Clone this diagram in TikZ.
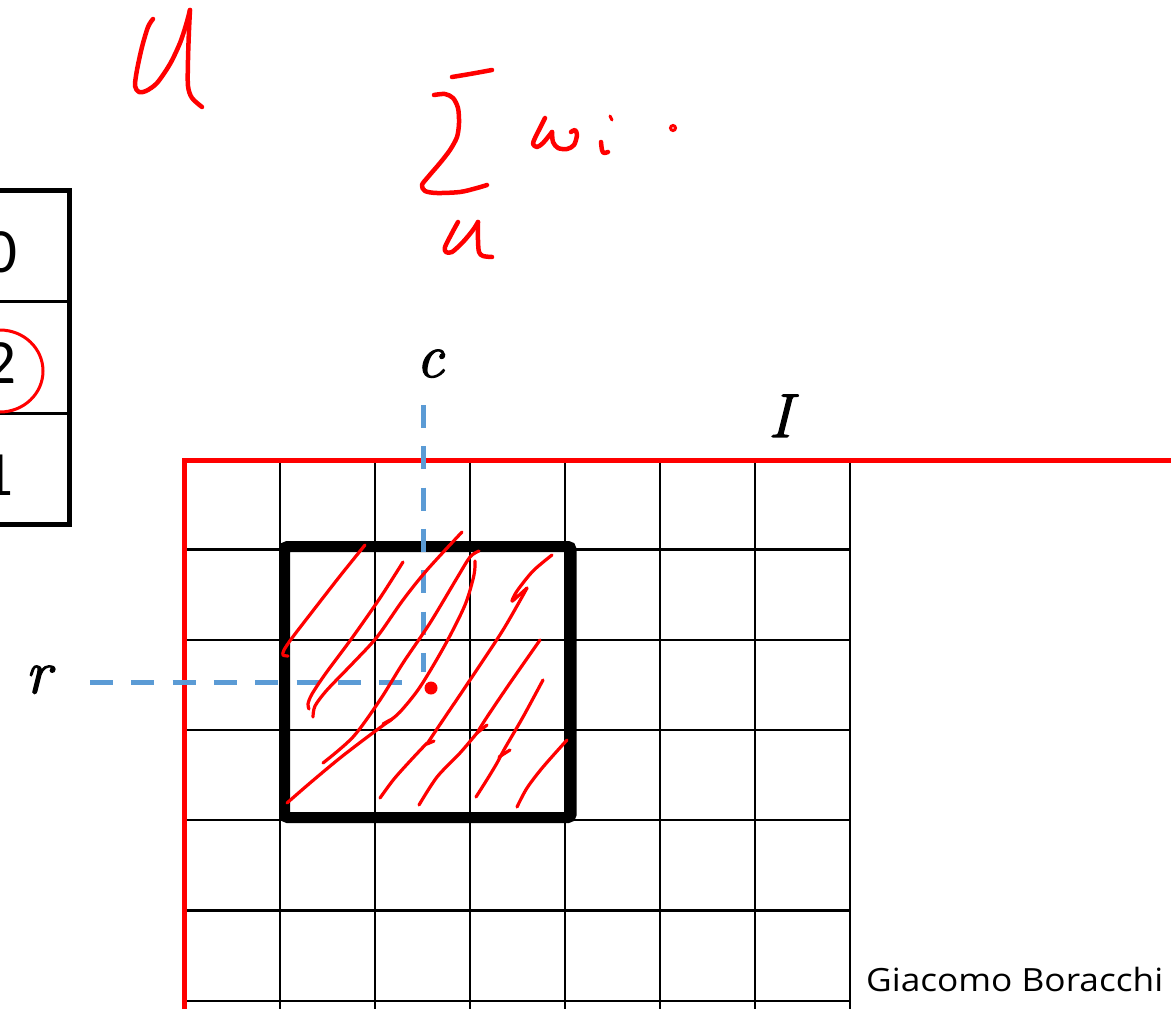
\documentclass[tikz,border=0pt]{standalone}
\usepackage{fontspec}
\usepackage{graphicx}
\newfontfamily\carlito{Carlito}
\newfontfamily\osans{Open Sans}
\newfontfamily\lblfont{Latin Modern Roman}[FakeBold=2]
\definecolor{pen}{HTML}{FF0000}
\definecolor{guideblue}{HTML}{5B9BD5}
\begin{document}
\begin{tikzpicture}[x=1pt,y=-1pt,
  penline/.style={draw=pen, line width=3.2pt, line cap=round, line join=round},
  letterline/.style={draw=pen, line width=4.5pt, line cap=round, line join=round},
  gridline/.style={draw=black, line width=2.2pt},
  redframe/.style={draw=pen, line width=5pt, line join=miter},
  guideline/.style={draw=guideblue, line width=5pt, dash pattern=on 23pt off 18.3pt},
  tableouter/.style={draw=black, line width=5pt, line join=miter},
  tableinner/.style={draw=black, line width=3pt},
  mathlabel/.style={inner sep=0pt, anchor=base, font=\fontsize{62}{62}\selectfont\lblfont\itshape},
  digit/.style={inner sep=0pt, anchor=base east, font=\fontsize{63}{63}\selectfont\carlito}
]
\useasboundingbox (0,0) rectangle (1171,1009);
\clip (0,0) rectangle (1171,1009);
\fill[white] (0,0) rectangle (1171,1009);

% table (cut at the left edge)
\draw[tableinner] (-30,301.5) -- (69.5,301.5);
\draw[tableinner] (-30,413) -- (69.5,413);
\draw[tableouter] (-30,190) -- (69.5,190) -- (69.5,524) -- (-30,524);
\node[digit] (d0) at (18,272) {0};
\node[digit] (d2) at (17,383) {2};
\node[digit] (d1) at (14,495) {1};
\draw[draw=pen, line width=3pt] (0,371) ellipse [x radius=43, y radius=41];

% grid
\foreach \x in {280,375,470,565,660,755,850} \draw[gridline] (\x,460) -- (\x,1012);
\foreach \y in {549.5,640,730,820,910.5,1001} \draw[gridline] (184,\y) -- (850,\y);
\draw[redframe] (184,1012) -- (184,460) -- (1175,460);

% window
\draw[draw=black, line width=11pt, rounded corners=3pt] (284.5,546.5) rectangle (571,817.5);

% blue guides
\draw[guideline] (423,405) -- (423,672);
\draw[guideline] (90,682) -- (402,682);

% labels
\node[mathlabel] (lc) at (430,377) {c};
\node[mathlabel] (lI) at (780,437) {I};
\node[mathlabel] (lr) at (38,693) {r};
\node[inner sep=0pt, anchor=base west] (auth) at (866,991)
  {\resizebox{297pt}{\height}{\fontsize{32}{32}\selectfont\osans Giacomo Boracchi}};

% centre dot
\fill[pen] (431,688) circle (6.5);

% hatching
\draw[penline] plot[smooth] coordinates {(365,545) (340,576) (312,612) (292,638) (284,650) (283,655) (288,656)};
\draw[penline] plot[smooth] coordinates {(403,562) (380,598) (352,638) (326,673) (312,694) (308,704) (309,709)};
\draw[penline] plot[smooth] coordinates {(313,717) (315,706) (327,690) (353,663) (377,637) (403,600) (427,570) (462,532)};
\draw[penline] plot[smooth] coordinates {(479,551) (470,557) (457,578) (430,623) (403,663) (380,700) (353,737) (323,763)};
\draw[penline] plot[smooth] coordinates {(475,561) (474,575) (465,605) (445,645) (420,687) (400,712) (388,722)};
\draw[penline] (390,720) -- (383,724);
\draw[penline] plot[smooth] coordinates {(287,803) (310,783) (340,758) (370,735) (392,719)};
\draw[penline] plot[smooth] coordinates {(552,555) (533,571) (517,591) (512,601) (517,597) (527,588)};
\draw[penline] plot[smooth] coordinates {(527,588) (503,630) (470,680) (443,720) (427,744)};
\draw[penline] (427,744) -- (434,741);
\draw[penline] plot[smooth] coordinates {(427,743) (411,760) (394,779) (380,798)};
\draw[penline] plot[smooth] coordinates {(540,640) (510,683) (487,717) (477,733)};
\draw[penline] (477,733) -- (487,725);
\draw[penline] plot[smooth] coordinates {(477,733) (460,753) (437,777) (419,805)};
\draw[penline] plot[smooth] coordinates {(543,680) (523,717) (505,748) (497,763) (488,778) (476,797)};
\draw[penline] (499,757) -- (510,750);
\draw[penline] plot[smooth] coordinates {(567,740) (543,767) (527,788) (517,807)};

% handwritten U
\draw[letterline] plot[smooth] coordinates {(153,19) (148,27) (142,47) (137,70) (135,86) (139,92) (146,91) (157,83) (170,64) (180,43) (186,25) (190,10)};
\draw[letterline] plot[smooth] coordinates {(190,10) (189,30) (188,60) (188,86) (192,98) (202,107)};

% handwritten sum
\draw[letterline] plot[smooth] coordinates {(452,77) (470,74) (492,70)};
\draw[letterline] plot[smooth] coordinates {(434,95) (445,94) (453,98) (458,108) (459,123) (457,137) (450,150) (440,163) (428,177) (422,185) (425,191) (437,193) (460,192) (477,188) (487,185)};
\draw[letterline] plot[smooth] coordinates {(458,222) (452,233) (445,247) (446,252) (452,252) (463,242) (473,230) (478,222)};
\draw[letterline] plot[smooth] coordinates {(478,222) (478,240) (479,252) (483,256) (492,257)};
\draw[letterline] plot[smooth] coordinates {(545,118) (540,128) (535,138) (533,144) (537,147) (543,143) (552,132)};
\draw[letterline] plot[smooth] coordinates {(552,132) (553,142) (558,148) (567,149) (574,145) (577,135) (575,130) (571,132)};
\draw[letterline] plot[smooth] coordinates {(601,142) (602,150) (604,153) (608,152)};
\draw[draw=pen, line width=3pt, line cap=round] (610,116) -- (612,120);
\draw[draw=pen, line width=3pt] (673,128) circle (2.5);
\end{tikzpicture}
\end{document}
